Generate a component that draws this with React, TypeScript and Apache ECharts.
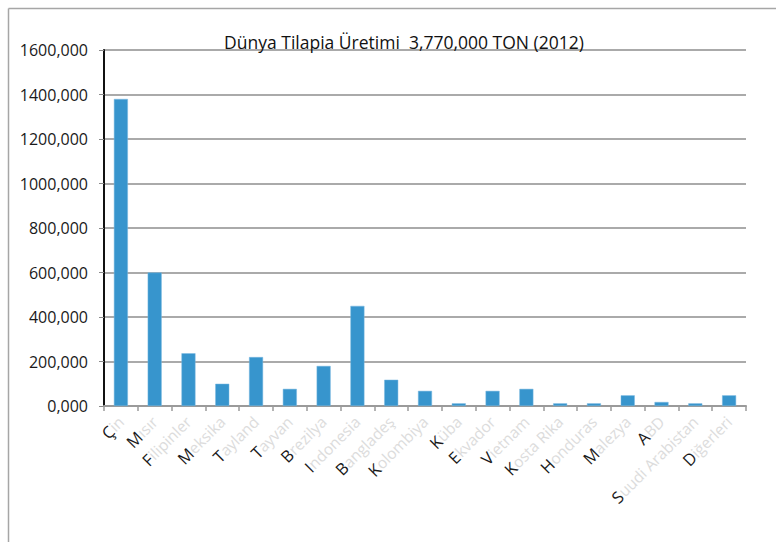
import React, { useEffect, useRef } from "react";
import * as echarts from "echarts";

// Dünya tilapia üretimi 2012, ülke bazında (bin ton)
const countries = [
  "Çin", "Mısır", "Filipinler", "Meksika", "Tayland", "Tayvan", "Brezilya",
  "Indonesia", "Bangladeş", "Kolombiya", "Küba", "Ekvador", "Vietnam",
  "Kosta Rika", "Honduras", "Malezya", "ABD", "Suudi Arabistan", "Diğerleri",
];
const production = [
  1380, 600, 237, 100, 220, 77, 180, 450, 118, 68, 12, 68, 77, 12, 12, 48, 18, 12, 48,
];
const yTicks = { min: 0, max: 1600, interval: 200 };
const titleText = "Dünya Tilapia Üretimi  3,770,000 TON (2012)";

const FONT = "'Open Sans', 'Noto Sans', sans-serif";

export default function App() {
  const ref = useRef<HTMLDivElement>(null);

  useEffect(() => {
    if (!ref.current) return;
    const chart = echarts.init(ref.current, undefined, { renderer: "svg" });
    chart.setOption({
      animation: false,
      backgroundColor: "#ffffff",
      textStyle: { fontFamily: FONT },
      title: {
        text: titleText,
        left: 399,
        top: 28,
        textAlign: "center",
        textStyle: { fontFamily: FONT, fontSize: 17.5, fontWeight: "normal", color: "#111" },
      },
      graphic: [
        {
          type: "line",
          shape: { x1: 8.5, y1: 8.5, x2: 776, y2: 8.5 },
          style: { stroke: "#a6a6a6", lineWidth: 1.5 },
          silent: true,
        },
        {
          type: "line",
          shape: { x1: 8.5, y1: 8.5, x2: 8.5, y2: 542 },
          style: { stroke: "#a6a6a6", lineWidth: 1.5 },
          silent: true,
        },
      ],
      grid: { left: 104, right: 30, top: 50, bottom: 136, containLabel: false },
      xAxis: {
        type: "category",
        data: countries,
        axisLine: { show: true, lineStyle: { color: "#9a9a9a", width: 2 } },
        axisTick: { show: true, length: 5, lineStyle: { color: "#9a9a9a", width: 1.5 } },
        axisLabel: {
          interval: 0,
          rotate: 45,
          margin: 13,
          fontFamily: FONT,
          fontSize: 16,
          formatter: (v: string) => `{a|${v.slice(0, 1)}}{b|${v.slice(1)}}`,
          rich: {
            a: { color: "#1a1a1a", fontSize: 16.5, fontFamily: FONT },
            b: { color: "#dcdcdc", fontSize: 15.5, fontFamily: FONT },
          },
        },
      },
      yAxis: {
        type: "value",
        min: yTicks.min,
        max: yTicks.max,
        interval: yTicks.interval,
        axisLine: { show: true, lineStyle: { color: "#111", width: 2 } },
        axisTick: { show: true, length: 5, lineStyle: { color: "#8a8a8a", width: 1 } },
        axisLabel: {
          margin: 16,
          fontFamily: FONT,
          fontSize: 16,
          color: "#1a1a1a",
          formatter: (v: number) => `${v},000`,
        },
        splitLine: { show: true, lineStyle: { color: "#8e8e8e", width: 1.5 } },
      },
      series: [
        {
          type: "bar",
          data: production,
          barWidth: 14,
          itemStyle: { color: "#3795cd", borderColor: "#7bb9e0", borderWidth: 0.5 },
        },
      ],
    });
    return () => chart.dispose();
  }, []);

  return (
    <div
      ref={ref}
      style={{ position: "fixed", left: 0, top: 0, width: 776, height: 542 }}
    />
  );
}
